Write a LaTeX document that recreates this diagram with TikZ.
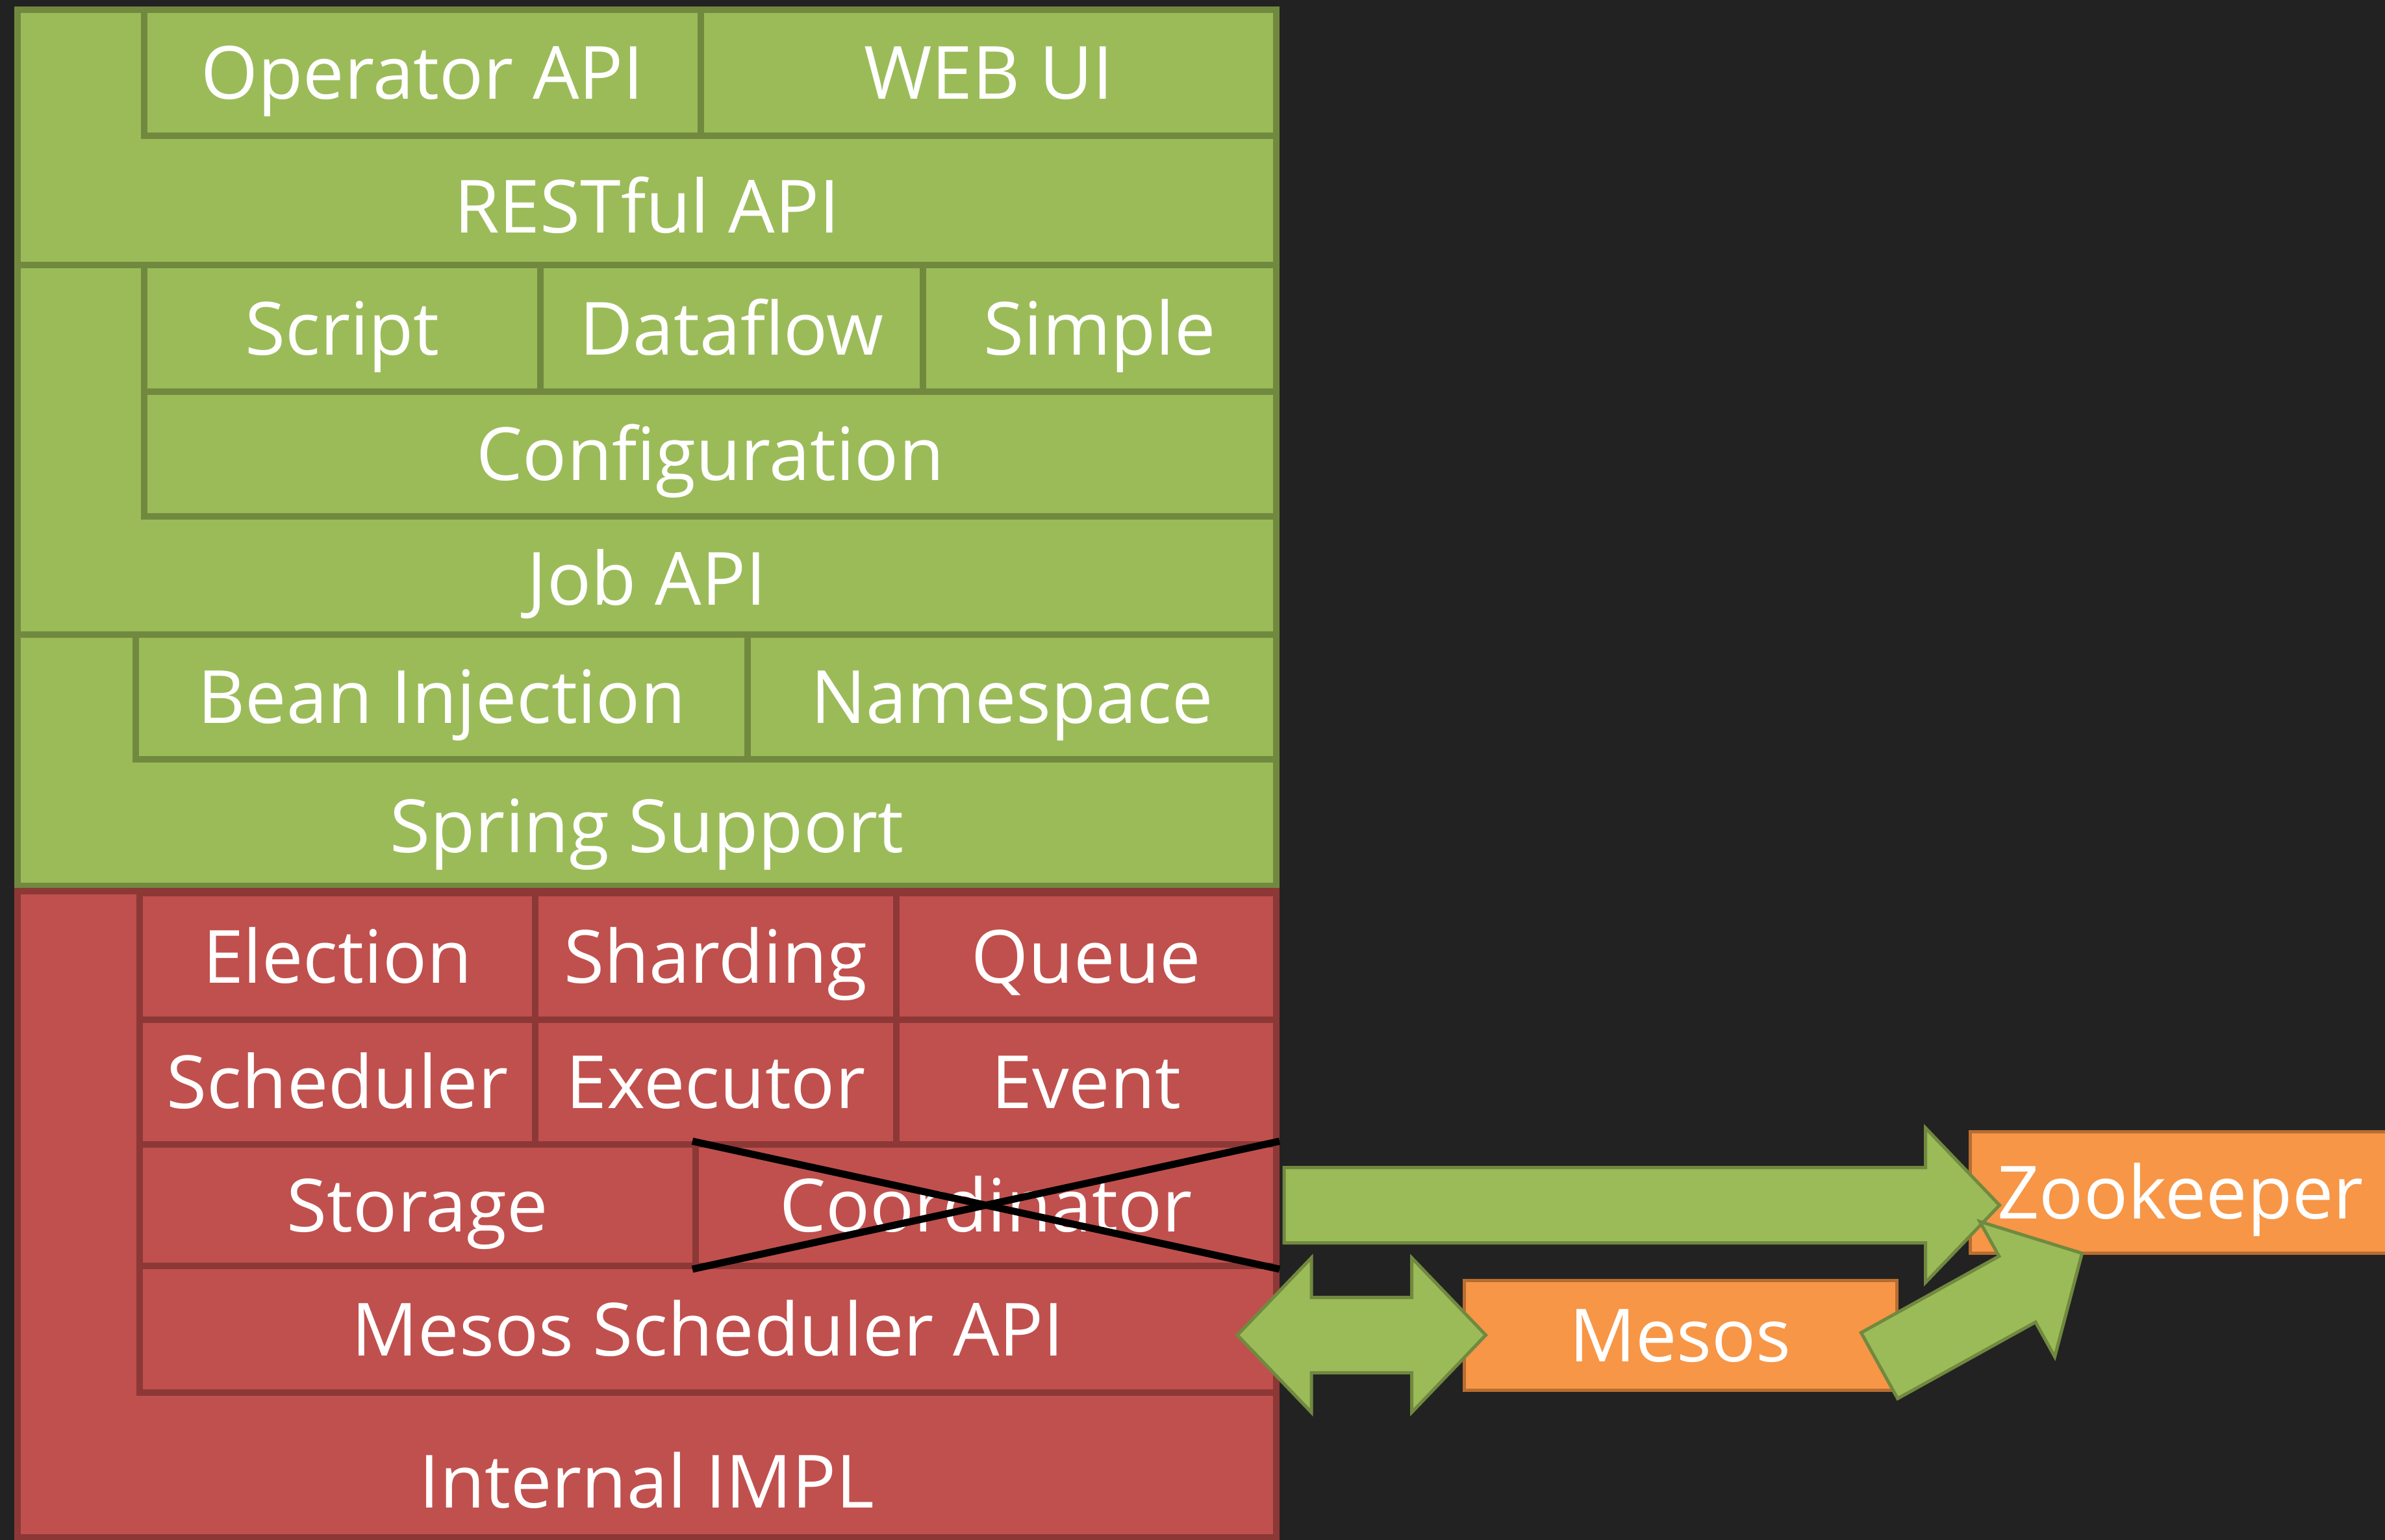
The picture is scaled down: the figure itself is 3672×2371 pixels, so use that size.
\documentclass[tikz,border=0pt]{standalone}
\usepackage{fontspec}
\setmainfont{Open Sans}
\usetikzlibrary{calc}
\definecolor{backdrop}{HTML}{222222}
\definecolor{apigreen}{HTML}{9BBB59}
\definecolor{apiline}{HTML}{71893F}
\definecolor{implred}{HTML}{C0504D}
\definecolor{implline}{HTML}{8C3836}
\definecolor{extorange}{HTML}{F79646}
\definecolor{extline}{HTML}{B66D31}
\newcommand{\cellfont}{\fontsize{113}{136}\selectfont}
\tikzset{
  celltext/.style={text=white, font=\cellfont, text height=81pt, text depth=0pt, inner sep=0pt},
  apibox/.style={celltext, draw=apiline, fill=apigreen, line width=10pt},
  implbox/.style={celltext, draw=implline, fill=implred, line width=10pt},
  extbox/.style={celltext, draw=extline, fill=extorange, line width=5pt},
  fatarrow/.style={draw=apiline, fill=apigreen, line width=5pt, line join=miter},
  strike/.style={draw=black, line width=11pt}
}

\begin{document}
\begin{tikzpicture}[x=1pt,y=-1pt]

\newcommand\stackcell[7]{\node[#2, minimum width={#4-#3}, minimum height={#6-#5}]
  (#1) at ({(#3+#4)/2},{(#5+#6)/2}) {#7};}
\newcommand\arrshaft{58pt}
\newcommand\arrhead{119pt}
\newcommand\arrlen{114pt}
\newcommand\fatarrow[2]{% tail, tip
  \coordinate (fab) at ($(#2)!\arrlen!(#1)$);
  \draw[fatarrow] ($(#1)!\arrshaft!90:(#2)$) -- ($(fab)!\arrshaft!90:(#2)$)
    -- ($(fab)!\arrhead!90:(#2)$) -- (#2) -- ($(fab)!\arrhead!-90:(#2)$)
    -- ($(fab)!\arrshaft!-90:(#2)$) -- ($(#1)!\arrshaft!-90:(#2)$) -- cycle;}
\newcommand\fatboth[2]{% tip, tip
  \coordinate (fa) at ($(#1)!\arrlen!(#2)$);
  \coordinate (fb) at ($(#2)!\arrlen!(#1)$);
  \draw[fatarrow] (#1) -- ($(fa)!\arrhead!90:(#2)$) -- ($(fa)!\arrshaft!90:(#2)$)
    -- ($(fb)!\arrshaft!90:(#2)$) -- ($(fb)!\arrhead!90:(#2)$) -- (#2)
    -- ($(fb)!\arrhead!-90:(#2)$) -- ($(fb)!\arrshaft!-90:(#2)$)
    -- ($(fa)!\arrshaft!-90:(#2)$) -- ($(fa)!\arrhead!-90:(#2)$) -- cycle;}

\clip (0,0) rectangle (3672,2371);
\fill[backdrop] (0,0) rectangle (3672,2371);

%% restful layer
\stackcell{restgrp}{apibox}{27}{1965}{15}{408}{}
\stackcell{oper}{apibox}{222}{1079}{15}{209}{Operator API}
\stackcell{webui}{apibox}{1079}{1965}{15}{209}{WEB UI}
\node[celltext] (rest) at (996,318) {RESTful API};

%% job layer
\stackcell{jobgrp}{apibox}{27}{1965}{408}{977}{}
\stackcell{script}{apibox}{222}{832}{408}{603}{Script}
\stackcell{dataflow}{apibox}{832}{1421}{408}{603}{Dataflow}
\stackcell{simple}{apibox}{1421}{1965}{408}{603}{Simple}
\stackcell{config}{apibox}{222}{1965}{603}{795}{Configuration}
\node[celltext] (jobapi) at (996,891) {Job API};

%% spring layer
\stackcell{springgrp}{apibox}{27}{1965}{977}{1364}{}
\stackcell{bean}{apibox}{209}{1151}{977}{1169}{Bean Injection}
\stackcell{namespace}{apibox}{1151}{1965}{977}{1169}{Namespace}
\node[celltext] (spring) at (996,1272) {Spring Support};

%% internal layer
\stackcell{implgrp}{implbox}{27}{1965}{1372}{2367}{}
\stackcell{election}{implbox}{215}{824}{1375}{1570}{Election}
\stackcell{sharding}{implbox}{824}{1380}{1375}{1570}{Sharding}
\stackcell{queue}{implbox}{1380}{1965}{1375}{1570}{Queue}
\stackcell{sched}{implbox}{215}{824}{1570}{1762}{Scheduler}
\stackcell{executor}{implbox}{824}{1380}{1570}{1762}{Executor}
\stackcell{event}{implbox}{1380}{1965}{1570}{1762}{Event}
\stackcell{storage}{implbox}{215}{1071}{1762}{1949}{Storage}
\stackcell{coord}{implbox}{1071}{1965}{1762}{1949}{Coordinator}
\stackcell{msapi}{implbox}{215}{1965}{1949}{2144}{Mesos Scheduler API}
\node[celltext] (impl) at (996,2281) {Internal IMPL};

\draw[strike] (coord.north west) -- (coord.south east);
\draw[strike] (coord.south west) -- (coord.north east);

%% outside
\stackcell{zk}{extbox}{3033}{3681}{1742}{1929}{Zookeeper}
\stackcell{mesos}{extbox}{2254}{2920}{1971}{2140}{Mesos}

\coordinate (zkin) at ($(coord.east)+(7,0)$);
\coordinate (zktip) at ($(zk.west |- coord.east)+(48,0)$);
\fatarrow{zkin}{zktip}

\coordinate (apitip) at ($(msapi.east |- mesos.west)+(-65,0)$);
\coordinate (mesostip) at ($(mesos.west)+(36,0)$);
\fatboth{apitip}{mesostip}

\coordinate (mesout) at ($(mesos.south east)+(-29,-40)$);
\coordinate (zkfoot) at ($(zk.south west)+(175,-2)$);
\fatarrow{mesout}{zkfoot}

\end{tikzpicture}
\end{document}
